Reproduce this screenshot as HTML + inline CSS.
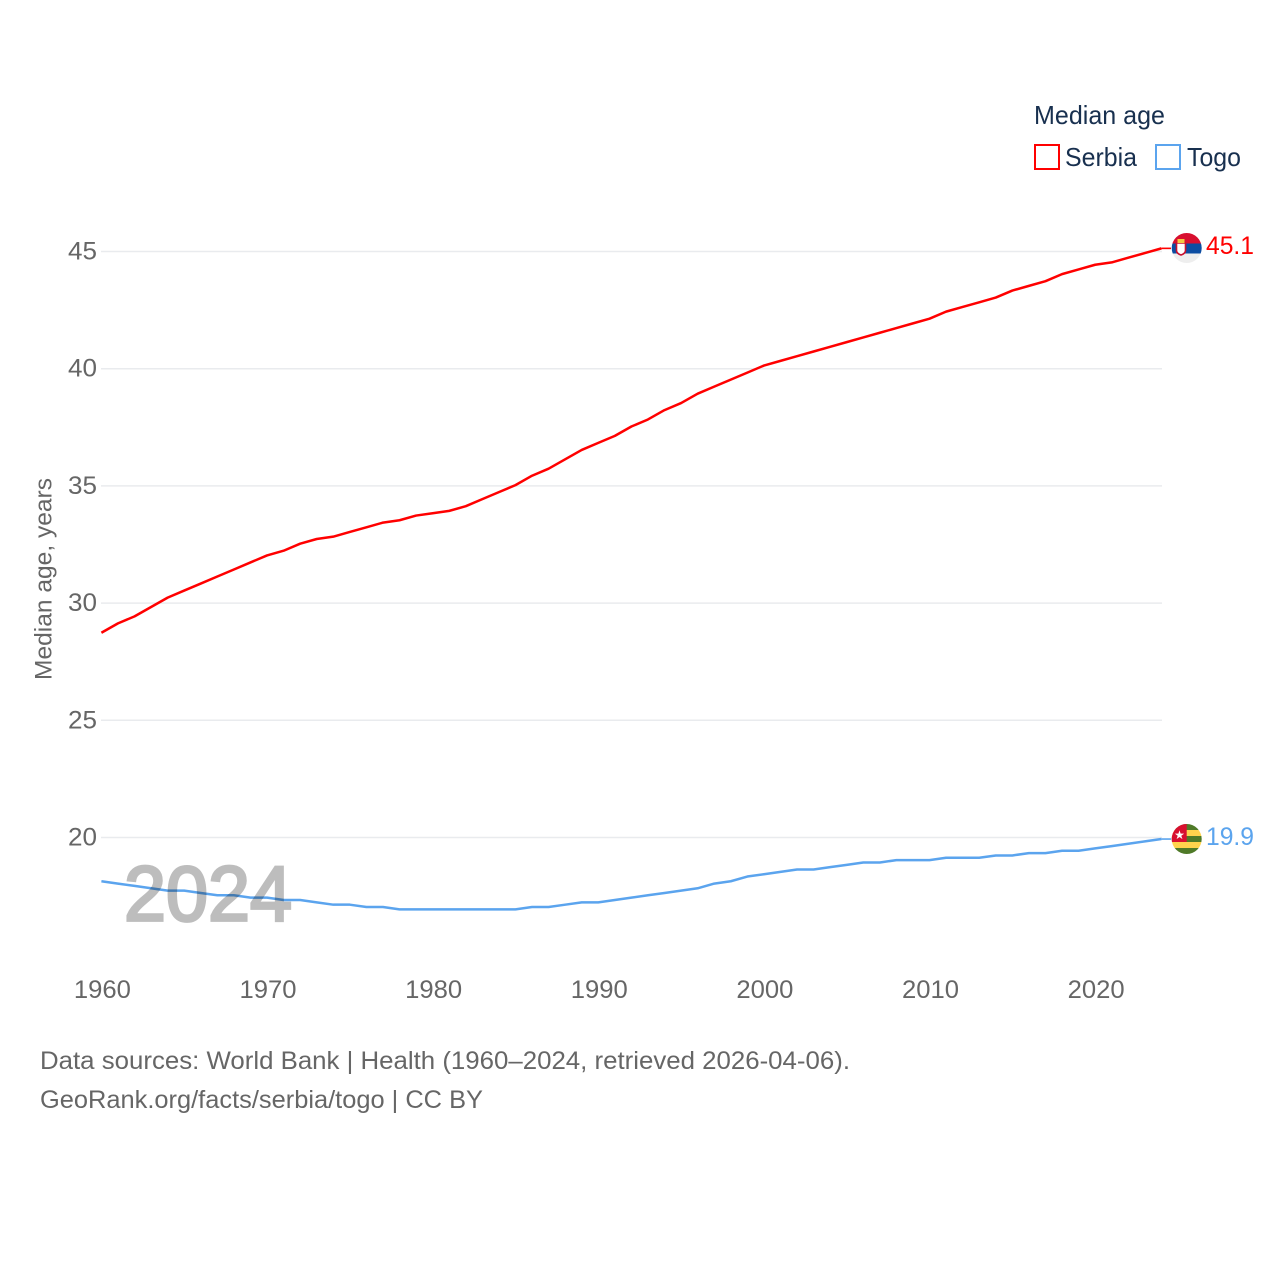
<!DOCTYPE html>
<html lang="en">
<head>
<meta charset="utf-8">
<title>Median age: Serbia and Togo</title>
<style>
html,body{margin:0;padding:0;background:#fff;width:1280px;height:1280px;overflow:hidden}
svg{display:block}
text{font-family:"Liberation Sans",sans-serif}
</style>
</head>
<body>
<svg id="chart" xmlns="http://www.w3.org/2000/svg" width="1280" height="1280" viewBox="0 0 1280 1280">
  <defs>
    <clipPath id="flag-clip-serbia"><circle cx="1186.7" cy="248" r="15"/></clipPath>
    <clipPath id="flag-clip-togo"><circle cx="1186.7" cy="839" r="15"/></clipPath>
  </defs>
  <g id="grid"></g>
  <g id="y-ticks"></g>
  <g id="x-ticks"></g>
  <text transform="translate(51.5,680) rotate(-90)" font-size="24" fill="#666" textLength="202" lengthAdjust="spacingAndGlyphs">Median age, years</text>
  <g id="series" transform="translate(0,-0.8)"></g>
  <text id="watermark" x="124" y="920.500" font-size="78" fill="#bdbdbd" stroke="#bdbdbd" stroke-width="2.800" style="mix-blend-mode:multiply;paint-order:stroke" textLength="168" lengthAdjust="spacingAndGlyphs">2024</text>

  <g clip-path="url(#flag-clip-serbia)">
    <rect x="1171" y="233" width="31" height="10.5" fill="#d80f2f"/>
    <rect x="1171" y="243.5" width="31" height="10" fill="#0c4da2"/>
    <rect x="1171" y="253.5" width="31" height="10" fill="#eeeeee"/>
    <path d="M1176.5 243h9v7.5q0 3-4.5 4.5q-4.500-1.500-4.500-4.500z" fill="#fff" stroke="#c8102e" stroke-width="1.6"/>
    <rect x="1177.500" y="239" width="7" height="4" fill="#f5c842"/>
  </g>
  <g clip-path="url(#flag-clip-togo)">
    <rect x="1171" y="824" width="31" height="6" fill="#4f7a28"/>
    <rect x="1171" y="830" width="31" height="6" fill="#ffd34d"/>
    <rect x="1171" y="836" width="31" height="6" fill="#4f7a28"/>
    <rect x="1171" y="842" width="31" height="6" fill="#ffd34d"/>
    <rect x="1171" y="848" width="31" height="7" fill="#4f7a28"/>
    <rect x="1171" y="824" width="15.700" height="18" fill="#d80f2f"/>
    <text x="1179.500" y="839" font-size="12" fill="#fff" text-anchor="middle">★</text>
  </g>
  <text x="1206" y="254" font-size="25" fill="#ff0000" textLength="48" lengthAdjust="spacingAndGlyphs">45.1</text>
  <text x="1206" y="845" font-size="25" fill="#5ba4ee" textLength="48" lengthAdjust="spacingAndGlyphs">19.9</text>

  <g>
    <text x="1034" y="124" font-size="26" fill="#18304f" textLength="131" lengthAdjust="spacingAndGlyphs">Median age</text>
    <rect x="1035" y="145" width="24" height="24" fill="none" stroke="#ff0000" stroke-width="2"/>
    <text x="1065" y="166" font-size="26" fill="#18304f" textLength="72" lengthAdjust="spacingAndGlyphs">Serbia</text>
    <rect x="1156" y="145" width="24" height="24" fill="none" stroke="#5ba4ee" stroke-width="2"/>
    <text x="1187" y="166" font-size="26" fill="#18304f" textLength="54" lengthAdjust="spacingAndGlyphs">Togo</text>
  </g>

  <text x="40" y="1069" font-size="25" fill="#666" textLength="810" lengthAdjust="spacingAndGlyphs">Data sources: World Bank | Health (1960–2024, retrieved 2026-04-06).</text>
  <text x="40" y="1108" font-size="25" fill="#666" textLength="443" lengthAdjust="spacingAndGlyphs">GeoRank.org/facts/serbia/togo | CC BY</text>
</svg>
<script>
const years = [1960,1961,1962,1963,1964,1965,1966,1967,1968,1969,1970,1971,1972,1973,1974,1975,1976,1977,1978,1979,1980,1981,1982,1983,1984,1985,1986,1987,1988,1989,1990,1991,1992,1993,1994,1995,1996,1997,1998,1999,2000,2001,2002,2003,2004,2005,2006,2007,2008,2009,2010,2011,2012,2013,2014,2015,2016,2017,2018,2019,2020,2021,2022,2023,2024];
const serbia = [28.7,29.1,29.4,29.8,30.2,30.5,30.8,31.1,31.4,31.7,32.0,32.2,32.5,32.7,32.8,33.0,33.2,33.4,33.5,33.7,33.8,33.9,34.1,34.4,34.7,35.0,35.4,35.7,36.1,36.5,36.8,37.1,37.5,37.8,38.2,38.5,38.9,39.2,39.5,39.8,40.1,40.3,40.5,40.7,40.9,41.1,41.3,41.5,41.7,41.9,42.1,42.4,42.6,42.8,43.0,43.3,43.5,43.7,44.0,44.2,44.4,44.5,44.7,44.9,45.1];
const togo = [18.1,18.0,17.9,17.8,17.7,17.7,17.6,17.5,17.5,17.4,17.4,17.3,17.3,17.2,17.1,17.1,17.0,17.0,16.9,16.9,16.9,16.9,16.9,16.9,16.9,16.9,17.0,17.0,17.1,17.2,17.2,17.3,17.4,17.5,17.6,17.7,17.8,18.0,18.1,18.3,18.4,18.5,18.6,18.6,18.7,18.8,18.9,18.9,19.0,19.0,19.0,19.1,19.1,19.1,19.2,19.2,19.3,19.3,19.4,19.4,19.5,19.6,19.7,19.8,19.9];
const yTicks = [20,25,30,35,40,45];
const xTicks = [1960,1970,1980,1990,2000,2010,2020];

const NS = 'http://www.w3.org/2000/svg';
const xScale = function (year) { return 101.4 + (year - 1960) * (1060 / 64); };
const yScale = function (value) { return 837.5 - (value - 20) * (586 / 25); };

function make(tag, parent, attrs) {
  const el = document.createElementNS(NS, tag);
  Object.keys(attrs).forEach(function (k) { el.setAttribute(k, attrs[k]); });
  parent.appendChild(el);
  return el;
}

const gridGroup = document.getElementById('grid');
const yGroup = document.getElementById('y-ticks');
yTicks.forEach(function (t) {
  const line = make('line', gridGroup, { x1: 101, x2: 1162, y1: yScale(t), y2: yScale(t), stroke: '#e9ebee', 'stroke-width': 1.5 });
  
  
  const label = make('text', yGroup, { x: 97, y: yScale(t) + 8, 'font-size': 25, fill: '#666', 'text-anchor': 'end', textLength: 29, lengthAdjust: 'spacingAndGlyphs' });
  
  
  label.textContent = t;
});

const xGroup = document.getElementById('x-ticks');
xTicks.forEach(function (t) {
  const label = make('text', xGroup, { x: xScale(t) + 1, y: 998, 'font-size': 25, fill: '#666', 'text-anchor': 'middle', textLength: 57, lengthAdjust: 'spacingAndGlyphs' });
  
  
  label.textContent = t;
});

const seriesGroup = document.getElementById('series');
function drawSeries(name, values, color) {
  const pts = values.map(function (v, i) { return xScale(years[i]).toFixed(2) + ',' + yScale(v).toFixed(2); });
  const path = make('polyline', seriesGroup, { points: pts.join(' '), fill: 'none', stroke: color, 'stroke-width': 2.5, 'stroke-linejoin': 'round' });
  
  
  const lastY = yScale(values[values.length - 1]);
  const conn = make('line', seriesGroup, { x1: xScale(years[years.length - 1]), x2: 1171, y1: lastY, y2: lastY, stroke: color, 'stroke-width': 1.6 });
  
  
}
drawSeries('serbia', serbia, '#ff0000');
drawSeries('togo', togo, '#5ba4ee');
</script>
</body>
</html>
